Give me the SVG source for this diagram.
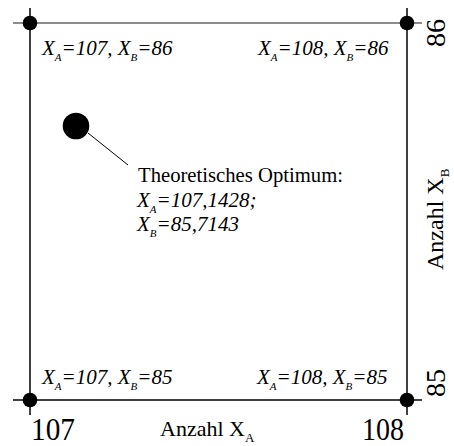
<svg xmlns="http://www.w3.org/2000/svg" width="454" height="446" viewBox="0 0 454 446">
<style>
.ln{stroke:#000;stroke-width:1.5;fill:none}
.gr{stroke:#666;stroke-width:1.5;fill:none}
.dot{fill:#000}
.it{font-family:"Liberation Serif",serif;font-style:italic;font-size:21px;fill:#000}
.rm{font-family:"Liberation Serif",serif;fill:#000}
.sub{font-size:11px}
</style>
<g id="connectors">
<line class="gr" x1="13" y1="23" x2="422" y2="23"/>
<line class="ln" x1="13" y1="400" x2="422" y2="400"/>
<line class="ln" x1="30" y1="8" x2="30" y2="415"/>
<line class="ln" x1="407" y1="8" x2="407" y2="415"/>
<line x1="88" y1="133" x2="128" y2="165" stroke="#000" stroke-width="1"/>
</g>
<g id="n107_86">
<circle class="dot" cx="30" cy="23" r="7.3"/>
<text class="it" x="42" y="55">X<tspan class="sub" dy="6">A</tspan><tspan dy="-6">=107, X</tspan><tspan class="sub" dy="6">B</tspan><tspan dy="-6">=86</tspan></text>
</g>
<g id="n108_86">
<circle class="dot" cx="407" cy="23" r="7.3"/>
<text class="it" x="258" y="55">X<tspan class="sub" dy="6">A</tspan><tspan dy="-6">=108, X</tspan><tspan class="sub" dy="6">B</tspan><tspan dy="-6">=86</tspan></text>
</g>
<g id="n107_85">
<circle class="dot" cx="30" cy="400" r="7.3"/>
<text class="it" x="42" y="384">X<tspan class="sub" dy="6">A</tspan><tspan dy="-6">=107, X</tspan><tspan class="sub" dy="6">B</tspan><tspan dy="-6">=85</tspan></text>
</g>
<g id="n108_85">
<circle class="dot" cx="407" cy="400" r="7.3"/>
<text class="it" x="257" y="384">X<tspan class="sub" dy="6">A</tspan><tspan dy="-6">=108, X</tspan><tspan class="sub" dy="6">B</tspan><tspan dy="-6">=85</tspan></text>
</g>
<g id="optimum">
<circle class="dot" cx="76" cy="126" r="13.3"/>
<text class="rm" x="138" y="182" font-size="21" textLength="205" lengthAdjust="spacingAndGlyphs">Theoretisches Optimum:</text>
<text class="it" x="137" y="207" font-size="22">X<tspan class="sub" dy="6">A</tspan><tspan dy="-6">=107,1428;</tspan></text>
<text class="it" x="137" y="231" font-size="22">X<tspan class="sub" dy="6">B</tspan><tspan dy="-6">=85,7143</tspan></text>
</g>
<g id="axes">
<text class="rm" x="31" y="440" font-size="31" textLength="44" lengthAdjust="spacingAndGlyphs">107</text>
<text class="rm" x="362" y="440" font-size="31" textLength="42" lengthAdjust="spacingAndGlyphs">108</text>
<text class="rm" x="160" y="436" font-size="22">Anzahl X<tspan font-size="13" dy="6">A</tspan></text>
<text class="rm" transform="translate(445,47) rotate(-90)" font-size="28">86</text>
<text class="rm" transform="translate(445,397) rotate(-90)" font-size="28">85</text>
<text class="rm" transform="translate(443,270) rotate(-90)" font-size="24">Anzahl X<tspan font-size="13" dy="6">B</tspan></text>
</g>
</svg>
